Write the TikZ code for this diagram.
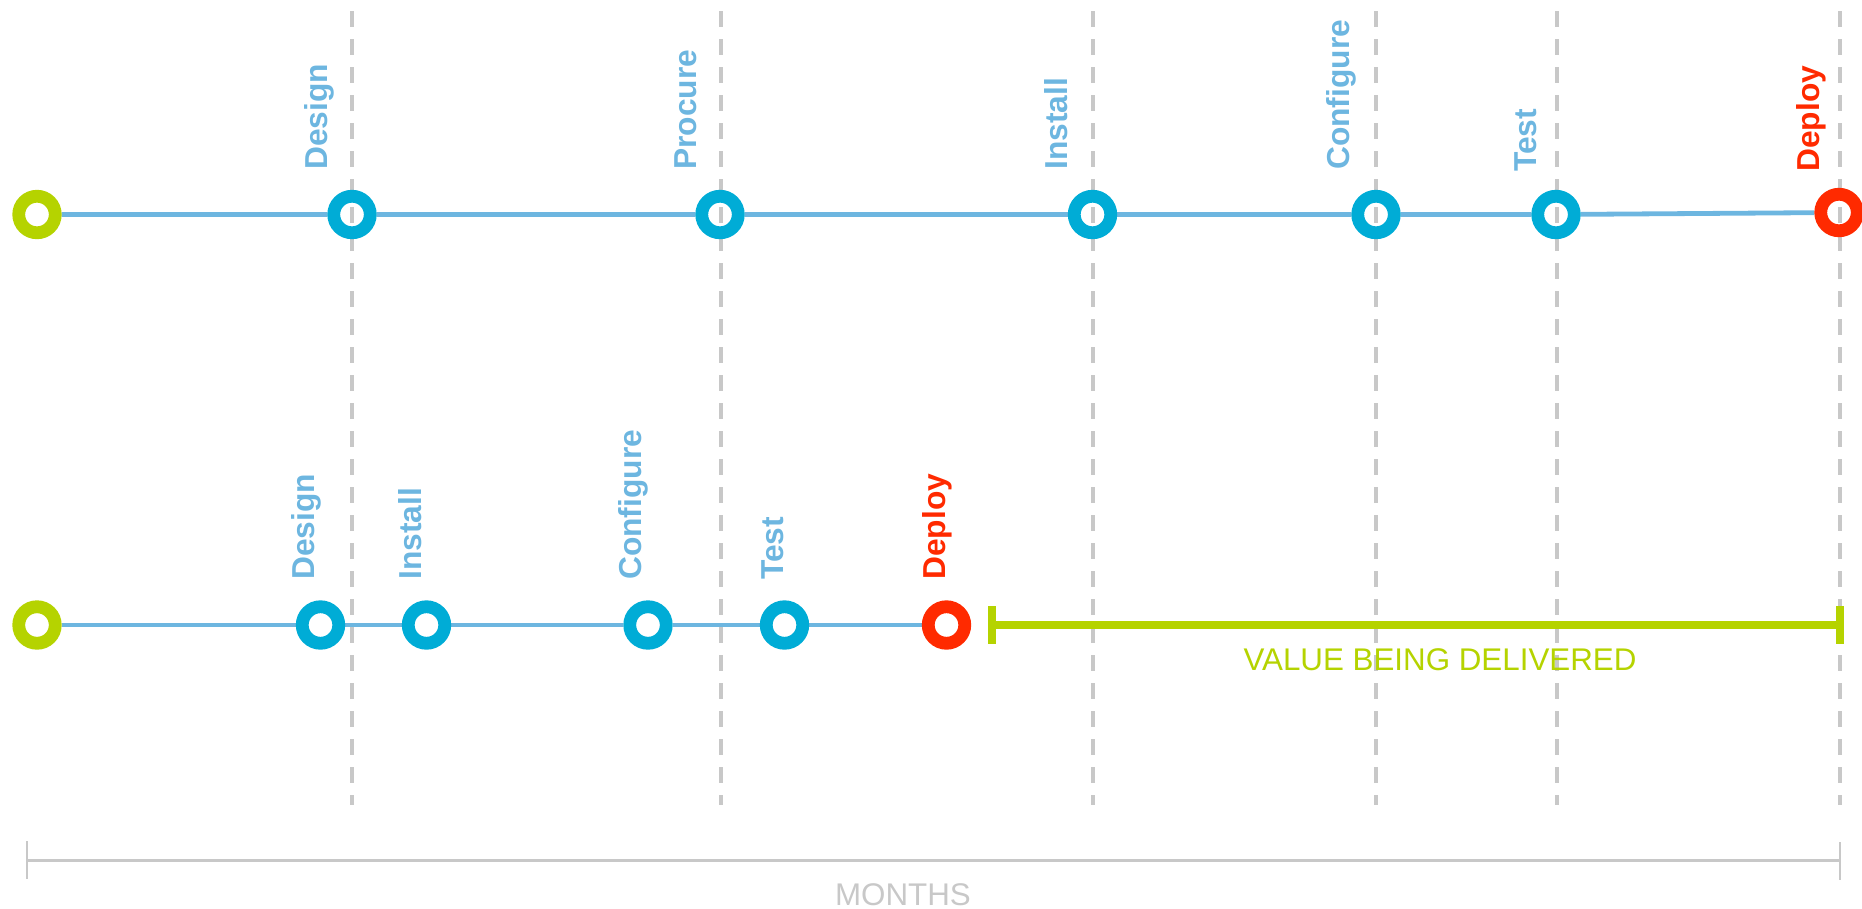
\documentclass[tikz,border=0pt]{standalone}
\usepackage{fontspec}
\setmainfont{Liberation Sans}
\usetikzlibrary{backgrounds}
\definecolor{connblue}{HTML}{6DB6E0}
\definecolor{ringcyan}{HTML}{00ACD6}
\definecolor{ringred}{HTML}{FF2A00}
\definecolor{valgreen}{HTML}{B5D300}
\definecolor{gridgray}{HTML}{C8C8C8}
\pgfdeclarelayer{mid}
\pgfsetlayers{background,mid,main}
\tikzset{
  ring/.style={circle, draw=#1, line width=9.6pt, minimum size=27.4pt, inner sep=0pt},
  conn/.style={draw=connblue, line width=3.6pt},
  grid/.style={draw=gridgray, line width=3pt, dash pattern=on 12pt off 9pt},
  lbl/.style={font=\fontsize{23.8}{28}\selectfont\bfseries, text=connblue, rotate=90, anchor=base west, inner sep=0pt},
  lblred/.style={lbl, text=ringred},
  plain/.style={font=\fontsize{23.5}{28}\selectfont, inner sep=0pt, anchor=base}
}
\begin{document}
\begin{tikzpicture}[x=0.75pt, y=-0.75pt]
\useasboundingbox (0,0) rectangle (1862,908);

% top row nodes
\node[ring=valgreen] (a0) at (37,214.5) {};
\node[ring=ringcyan] (a1) at (352,214.5) {};
\node[ring=ringcyan] (a2) at (720,214.5) {};
\node[ring=ringcyan] (a3) at (1092.5,214.5) {};
\node[ring=ringcyan] (a4) at (1376,214.5) {};
\node[ring=ringcyan] (a5) at (1556,214.5) {};
\node[ring=ringred]  (a6) at (1839,212.5) {};

% bottom row nodes
\node[ring=valgreen] (b0) at (37,625) {};
\node[ring=ringcyan] (b1) at (320.5,625) {};
\node[ring=ringcyan] (b2) at (426.5,625) {};
\node[ring=ringcyan] (b3) at (648,625) {};
\node[ring=ringcyan] (b4) at (784.5,625) {};
\node[ring=ringred]  (b5) at (946.5,625) {};

% connectors
\begin{pgfonlayer}{background}
\path[conn] (a0) -- (a1) -- (a2) -- (a3) -- (a4) -- (a5) -- (a6);
\path[conn] (b0) -- (b1) -- (b2) -- (b3) -- (b4) -- (b5);
\end{pgfonlayer}

% dashed grid lines
\begin{pgfonlayer}{mid}
\foreach \gx/\gn in {351.5/1,721/2,1092.5/3,1376/4,1557/5,1840/6}{
  \coordinate (gt\gn) at (\gx,11);
  \coordinate (gb\gn) at (\gx,805);
  \path[grid] (gt\gn) -- (gb\gn);
}
\end{pgfonlayer}

% top labels
\node[lbl] (la1) at (327,170) {Design};
\node[lbl] (la2) at (696,170) {Procure};
\node[lbl] (la3) at (1067,170) {Install};
\node[lbl] (la4) at (1349,170) {Configure};
\node[lbl] (la5) at (1536,172) {Test};
\node[lblred] (la6) at (1819,172) {Deploy};

% bottom labels
\node[lbl] (lb1) at (314,580) {Design};
\node[lbl] (lb2) at (421,580) {Install};
\node[lbl] (lb3) at (641,580) {Configure};
\node[lbl] (lb4) at (783,580) {Test};
\node[lblred] (lb5) at (945,580) {Deploy};

% value bracket
\coordinate (v1) at (992,625);
\coordinate (v2) at (1840,625);
\coordinate (v1t) at (992,606);
\coordinate (v1b) at (992,644);
\coordinate (v2t) at (1840,606);
\coordinate (v2b) at (1840,644);
\draw[valgreen, line width=6pt] (v1) -- (v2);
\draw[valgreen, line width=6pt] (v1t) -- (v1b);
\draw[valgreen, line width=6pt] (v2t) -- (v2b);
\node[plain, text=valgreen] (val) at (1440,670) {VALUE BEING DELIVERED};

% months axis
\coordinate (m1) at (27,860);
\coordinate (m2) at (1840,860);
\coordinate (m1t) at (27,841);
\coordinate (m1b) at (27,879);
\coordinate (m2t) at (1840,842);
\coordinate (m2b) at (1840,880);
\draw[gridgray, line width=2.25pt] (m1) -- (m2);
\draw[gridgray, line width=1.1pt] (m1t) -- (m1b);
\draw[gridgray, line width=1.1pt] (m2t) -- (m2b);
\node[plain, text=gridgray] (months) at (903,905) {MONTHS};
\end{tikzpicture}
\end{document}
